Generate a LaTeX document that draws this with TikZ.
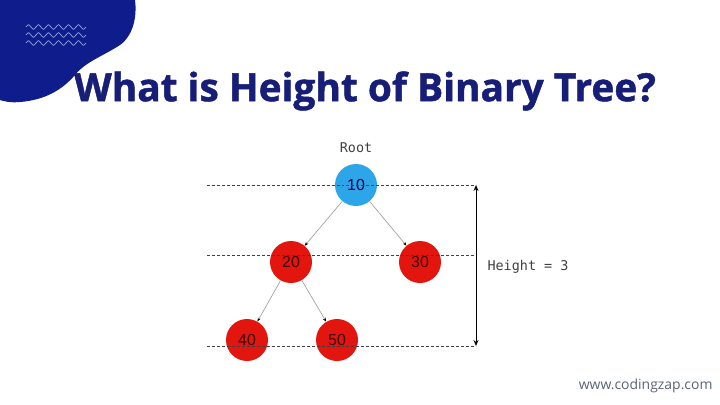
\documentclass[tikz,border=0pt]{standalone}
\usepackage{fontspec}
\setmainfont{Open Sans}
\newfontfamily\titlefont[FakeBold=1.2]{Open Sans Bold}
\newfontfamily\monofont{DejaVu Sans Mono}
\newfontfamily\numfont{Liberation Sans}
\usetikzlibrary{arrows.meta}
\definecolor{blobblue}{RGB}{14,28,140}
\definecolor{titleblue}{RGB}{22,30,120}
\definecolor{wavec}{RGB}{140,155,225}
\definecolor{rootblue}{RGB}{44,166,232}
\definecolor{nodered}{RGB}{226,22,14}
\definecolor{webgray}{RGB}{90,100,120}
\tikzset{
  treenode/.style={circle, minimum size=42bp, inner sep=0pt, font=\numfont\fontsize{16}{16}\selectfont, text=black!75!red},
  edge/.style={draw=gray!80, line width=0.6pt, -{Stealth[length=4pt,width=3pt,black]}},
  level/.style={draw=black!75, dash pattern=on 3pt off 2pt, line width=0.8pt},
  monotext/.style={font=\monofont\fontsize{13.5}{13.5}\selectfont, text=black!75},
}
\begin{document}
\begin{tikzpicture}[x=1bp,y=-1bp]
\useasboundingbox (0,0) rectangle (720,404);
\fill[white] (0,0) rectangle (720,404);
% blob
\fill[blobblue] (0,0) -- (135,0) .. controls (137,15) and (134,35) .. (120,45)
  .. controls (105,55) and (85,62) .. (75,75)
  .. controls (62,90) and (45,100) .. (20,102)
  .. controls (10,103) and (3,101) .. (0,100) -- cycle;
% waves
\foreach \yy in {27,35,43}{
  \draw[wavec, line width=0.8pt] (26,\yy)
    \foreach \k in {0,...,5}{ .. controls (26+\k*10+2.5,\yy-3) and (26+\k*10+2.5,\yy-3) .. (26+\k*10+5,\yy) .. controls (26+\k*10+7.5,\yy+3) and (26+\k*10+7.5,\yy+3) .. (26+\k*10+10,\yy)};
}
% title
\node[font=\titlefont\fontsize{39}{39}\selectfont, text=titleblue, anchor=center] (title) at (365,91) {What is Height of Binary Tree?};
% nodes
\node[treenode, fill=rootblue, text=black!70!blue] (n10) at (356,185) {10};
\node[treenode, fill=nodered] (n20) at (291,262) {20};
\node[treenode, fill=nodered] (n30) at (420,262) {30};
\node[treenode, fill=nodered] (n40) at (247,340) {40};
\node[treenode, fill=nodered] (n50) at (337,340) {50};
% level lines
\coordinate (l1a) at (207,185); \coordinate (l1b) at (476,185);
\coordinate (l2a) at (207,255); \coordinate (l2b) at (476,255);
\coordinate (l3a) at (207,346); \coordinate (l3b) at (476,346);
\draw[level] (l1a) -- (l1b);
\draw[level] (l2a) -- (l2b);
\draw[level] (l3a) -- (l3b);
\node[monotext] (root) at (356,148) {Root};
% edges
\draw[edge] (n10) -- (n20);
\draw[edge] (n10) -- (n30);
\draw[edge] (n20) -- (n40);
\draw[edge] (n20) -- (n50);
% height arrow
\draw[line width=1pt, black, {Stealth[length=6pt,width=5pt]}-{Stealth[length=6pt,width=5pt]}] (l1b) -- (l3b);
\node[monotext, anchor=west] (ht) at (484,267) {Height = 3};
% website
\node[font=\fontsize{14}{14}\selectfont, text=webgray, anchor=east] (web) at (716,386) {www.codingzap.com};
\end{tikzpicture}
\end{document}
